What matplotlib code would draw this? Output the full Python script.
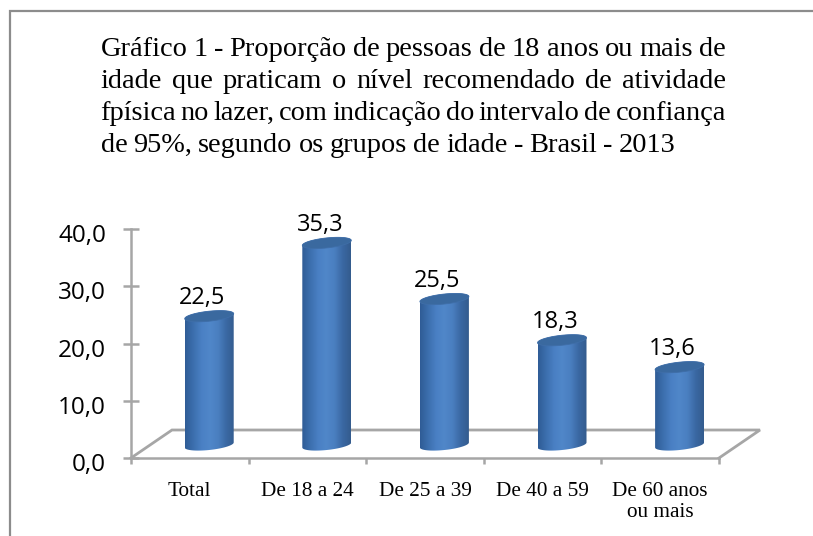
import numpy as np
import matplotlib
matplotlib.use("Agg")
import matplotlib.pyplot as plt
from matplotlib.lines import Line2D
from matplotlib.patches import Polygon
from matplotlib.transforms import ScaledTranslation

categories = ["Total", "De 18 a 24", "De 25 a 39", "De 40 a 59", "De 60 anos\nou mais"]
values = [22.5, 35.3, 25.5, 18.3, 13.6]
value_labels = ["22,5", "35,3", "25,5", "18,3", "13,6"]
yticks = [0, 10, 20, 30, 40]
ytick_labels = ["0,0", "10,0", "20,0", "30,0", "40,0"]
title_lines = [
    "Gráfico 1 - Proporção de pessoas de 18 anos ou mais de",
    "idade que praticam o nível recomendado de atividade",
    "fpísica no lazer, com indicação do intervalo de confiança",
    "de 95%, segundo os grupos de idade - Brasil - 2013",
]

W, H = 813, 536
GRAY = "#a6a6a6"
fig = plt.figure(figsize=(W / 100, H / 100), dpi=100, facecolor="white")

def px_box(x0, y0, x1, y1):
    return [x0 / W, 1 - y1 / H, (x1 - x0) / W, (y1 - y0) / H]

ax = fig.add_axes(px_box(131, 229, 719, 458))
ax.set_xlim(0, 5)
ax.set_ylim(0, 40)
ax.patch.set_visible(False)
for s in ["top", "right"]:
    ax.spines[s].set_visible(False)
for s in ["left", "bottom"]:
    ax.spines[s].set_color(GRAY)
    ax.spines[s].set_linewidth(1.8)
ax.set_yticks(yticks, ytick_labels, fontsize=17.5, family="Open Sans", color="black")
ax.tick_params(axis="y", direction="inout", length=11, width=1.8, color=GRAY, pad=12.5)
down = ScaledTranslation(0, -0.04, fig.dpi_scale_trans)
for lab in ax.get_yticklabels():
    lab.set_transform(lab.get_transform() + down)
ax.set_xticks(np.arange(6))
ax.set_xticklabels([])
ax.set_xticks(np.arange(5) + 0.5, categories, minor=True, fontsize=15.3,
              family="Liberation Serif", linespacing=1.15)
ax.tick_params(axis="x", which="major", direction="out", length=4, width=1.8, color=GRAY)
ax.tick_params(axis="x", which="minor", length=0, pad=17)

# floor, in data units
px_x = 5 / 588
px_y = 40 / 229
dx, dy = 41 * px_x, 28 * px_y
floor = Line2D([0, dx, 5 + dx, 5], [0, dy, dy, 0], color=GRAY, lw=2.0, clip_on=False,
               solid_joinstyle="miter", zorder=1)
ax.add_line(floor)

# horizontal cylinder shading
cmap = matplotlib.colors.LinearSegmentedColormap.from_list(
    "cyl", ["#2f5c96", "#3c6fae", "#4a80c4", "#5087c9", "#4a7fc0", "#3a68a3", "#345c8e"])
grad = np.linspace(0, 1, 128).reshape(1, -1)

half = 24.5 * px_x
minor = 5 * px_y
shear = 2.5 * px_y
base = 13 * px_y
shift = 0.165

t = np.linspace(0, 2 * np.pi, 80)
for i, v in enumerate(values):
    cx = i + 0.5 + shift
    tb = np.linspace(np.pi, 2 * np.pi, 40)
    xb = cx + half * np.cos(tb)
    yb = base + minor * np.sin(tb) + shear * np.cos(tb)
    tt = np.linspace(0, np.pi, 40)
    xt = cx + half * np.cos(tt)
    yt = base + v + minor * np.sin(tt) + shear * np.cos(tt)
    body = Polygon(np.column_stack([np.r_[xb, xt], np.r_[yb, yt]]), closed=True,
                   transform=ax.transData, fc="none", ec="none")
    ax.add_patch(body)
    im = ax.imshow(grad, cmap=cmap, aspect="auto", zorder=3,
                   extent=[cx - half, cx + half, 0, base + v + minor + shear])
    im.set_clip_path(body)
    top = Polygon(np.column_stack([cx + half * np.cos(t),
                                   base + v + minor * np.sin(t) + shear * np.cos(t)]),
                  closed=True, fc="#3a699f", ec="#3f6ea8", lw=0.6, zorder=4)
    ax.add_patch(top)
    ax.annotate(value_labels[i], (cx, base + v), xytext=(-5, 8.5), textcoords="offset points",
                ha="center", va="baseline", fontsize=17, family="Open Sans", zorder=5)
ax.set_xlim(0, 5)
ax.set_ylim(0, 40)

# frame: top and left rules only
fig.add_artist(Line2D([9.5 / W, 9.5 / W, 1], [0, 1 - 10.5 / H, 1 - 10.5 / H],
                      color="#8c8c8c", lw=1.6, solid_joinstyle="miter"))

# justified title
fig.canvas.draw()
rend = fig.canvas.get_renderer()
x0 = 100.5
right_edges = [726, 726, 726, 675]
baselines = [56, 88, 120, 152]
for line, by, x1 in zip(title_lines, baselines, right_edges):
    words = line.split(" ")
    arts = [fig.text(0, 1 - by / H, w, fontsize=20.4, family="Liberation Serif",
                     ha="left", va="baseline") for w in words]
    widths = [a.get_window_extent(rend).width for a in arts]
    gap = (x1 - x0 - sum(widths)) / (len(words) - 1)
    x = x0
    for a, w in zip(arts, widths):
        a.set_x(x / W)
        x += w + gap

fig.savefig("out.png", dpi=100)
